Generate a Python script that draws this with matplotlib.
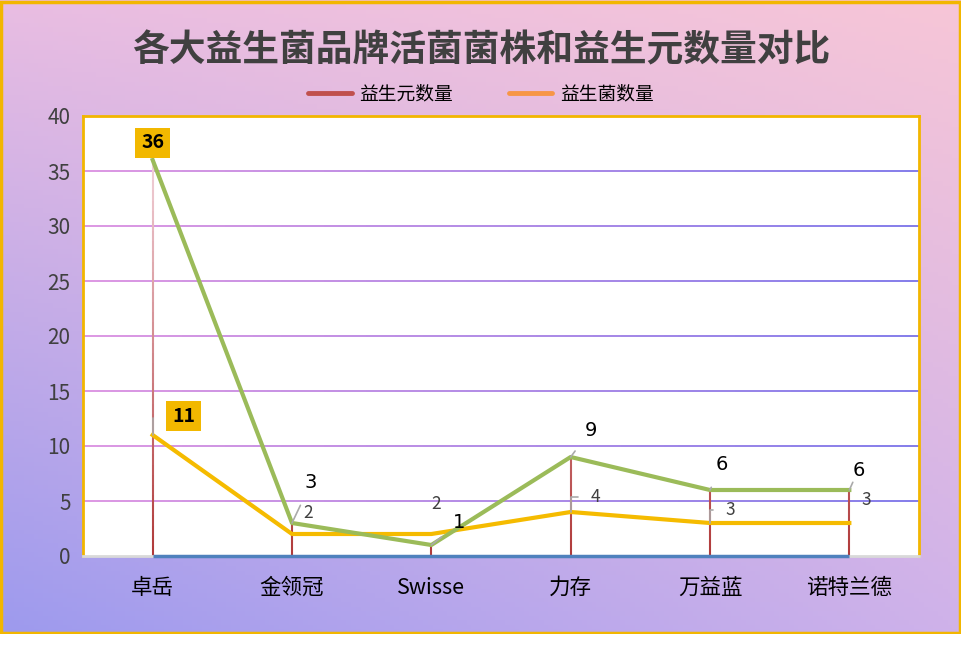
import matplotlib
matplotlib.use('Agg')
import matplotlib.pyplot as plt
import numpy as np
from matplotlib.collections import LineCollection
from matplotlib.colors import to_rgb
from matplotlib.lines import Line2D
from matplotlib.patches import Rectangle

plt.rcParams['font.family'] = ['Noto Sans CJK SC', 'DejaVu Sans']

brands = ['卓岳', '金领冠', 'Swisse', '力存', '万益蓝', '诺特兰德']
probiotic = [36, 3, 1, 9, 6, 6]
prebiotic = [11, 2, 2, 4, 3, 3]
baseline = [0, 0, 0, 0, 0, 0]
legend_names = ['益生元数量', '益生菌数量']
y_ticks = [0, 5, 10, 15, 20, 25, 30, 35, 40]

# label offsets (pixels) for data labels
pro_off = [(0, 17), (19, 40), (28, 22), (20, 27), (12, 25), (9, 20)]
pre_off = [(31, 19), (16, 21), (5, 30), (25, 15), (20, 13), (17, 23)]
pre_leader = [True, False, False, True, True, False]

W, H = 962, 647
fig = plt.figure(figsize=(W / 100, H / 100), dpi=100)
fig.patch.set_facecolor('white')

# gradient background
bg_bottom = 13 / H
bg = fig.add_axes([0, bg_bottom, 1, 1 - bg_bottom])
bg.set_axis_off()
tl, tr = np.array(to_rgb('#e9bde2')), np.array(to_rgb('#f7c6d7'))
bl, br = np.array(to_rgb('#9d9aee')), np.array(to_rgb('#cfb2ea'))
u = np.linspace(0, 1, 200)[None, :, None]
v = np.linspace(0, 1, 140)[:, None, None]
img = (1 - v) * ((1 - u) * tl + u * tr) + v * ((1 - u) * bl + u * br)
bg.imshow(img, aspect='auto', extent=[0, 1, 0, 1])
bg.add_patch(Rectangle((0.001, 0.002), 0.997, 0.995, transform=bg.transAxes,
                       fill=False, edgecolor='#f2b600', lw=2.5))

ax = fig.add_axes([83 / W, 1 - 556 / H, 836 / W, 440 / H])
ax.set_facecolor('white')
x = np.arange(len(brands))
ax.set_xlim(-0.5, len(brands) - 0.5)
ax.set_ylim(0, 40)

# gradient gridlines
gl, gr = np.array(to_rgb('#da8fe0')), np.array(to_rgb('#7a72e8'))
xs = np.linspace(-0.5, len(brands) - 0.5, 60)
for yt in y_ticks[1:-1]:
    segs = [[(xs[i], yt), (xs[i + 1], yt)] for i in range(len(xs) - 1)]
    t = np.linspace(0, 1, len(segs))[:, None]
    cols = (1 - t) * gl + t * gr
    ax.add_collection(LineCollection(segs, colors=cols, lw=1.3, zorder=1))

# drop lines with gradient
dr_lo, dr_hi = np.array(to_rgb('#b03a3a')), np.array(to_rgb('#f2d4dc'))
for xi, yv in zip(x, probiotic):
    ys = np.linspace(0, yv, 40)
    segs = [[(xi, ys[i]), (xi, ys[i + 1])] for i in range(len(ys) - 1)]
    t = np.clip(ys[:-1] / 36, 0, 1)[:, None]
    cols = (1 - t) * dr_lo + t * dr_hi
    ax.add_collection(LineCollection(segs, colors=cols, lw=1.5, zorder=2))

ax.plot(x, baseline, color='#4f81bd', lw=2.5, zorder=3, solid_capstyle='butt', clip_on=False)
ax.plot(x, prebiotic, color='#f5bb00', lw=3, zorder=4)
ax.plot(x, probiotic, color='#9bbb59', lw=3, zorder=5)

box = dict(boxstyle='square,pad=0.3', fc='#f2b800', ec='none')

# data labels
for xi, yv, off in zip(x, probiotic, pro_off):
    boxed = yv == max(probiotic)
    ax.annotate(str(yv), (xi, yv), xytext=off, textcoords='offset pixels',
                ha='center', va='center', fontsize=14,
                fontweight='bold' if boxed else 'normal', color='black',
                family=['DejaVu Sans'] if not boxed else ['Noto Sans CJK SC'],
                bbox=box if boxed else None,
                arrowprops=None if boxed else dict(arrowstyle='-', color='#aaaaaa', lw=1.2,
                                                   shrinkA=8, shrinkB=0),
                zorder=6)
for xi, yv, off, lead in zip(x, prebiotic, pre_off, pre_leader):
    boxed = yv == max(prebiotic)
    ax.annotate(str(yv), (xi, yv), xytext=off, textcoords='offset pixels',
                ha='center', va='center', fontsize=14 if boxed else 12.5,
                fontweight='bold' if boxed else 'normal',
                color='black' if boxed else '#404040',
                bbox=box if boxed else None,
                arrowprops=dict(arrowstyle='-', color='#aaaaaa', lw=1.2,
                                shrinkA=10 if boxed else 7, shrinkB=0,
                                connectionstyle='angle,angleA=0,angleB=90') if lead else None,
                zorder=6)

ax.set_xticks(x)
ax.set_xticklabels(brands, fontsize=15.5, color='black')
ax.set_yticks(y_ticks)
ax.set_yticklabels([str(v) for v in y_ticks], fontsize=15, color='#404040')
ax.tick_params(length=0, pad=9)
ax.tick_params(axis='x', pad=15)
for side in ['left', 'top', 'right']:
    ax.spines[side].set_color('#f2b600')
    ax.spines[side].set_linewidth(2)
ax.spines['bottom'].set_color('#d9d9d9')
ax.spines['bottom'].set_linewidth(2)

fig.text(0.5, 1 - 51 / H, '各大益生菌品牌活菌菌株和益生元数量对比', ha='center', va='center',
         fontsize=26.5, fontweight='bold', color='#404040')

handles = [Line2D([], [], color='#c0504d', lw=3.5, solid_capstyle='round'),
           Line2D([], [], color='#f79646', lw=3.5, solid_capstyle='round')]
fig.legend(handles, legend_names, loc='center', bbox_to_anchor=(0.5, 1 - 94 / H),
           ncol=2, frameon=False, fontsize=13.5, handlelength=2.3, columnspacing=3.0,
           handletextpad=0.4)

fig.savefig('out.png', dpi=100)
